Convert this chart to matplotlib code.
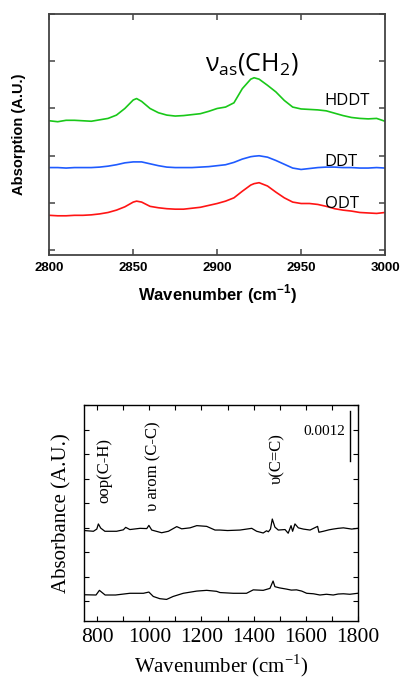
import matplotlib.pyplot as plt
from matplotlib.ticker import MultipleLocator

# ---- top panel: CH2 stretching region ----
wn_top = [2800, 2805, 2810, 2815, 2820, 2825, 2830, 2835, 2840, 2845, 2850, 2852,
          2855, 2860, 2865, 2870, 2875, 2880, 2885, 2890, 2895, 2900, 2905, 2910,
          2915, 2920, 2922, 2925, 2930, 2935, 2940, 2945, 2950, 2955, 2960, 2965,
          2970, 2975, 2980, 2985, 2990, 2995, 3000]
hddt = [2.74, 2.72, 2.75, 2.75, 2.74, 2.73, 2.76, 2.79, 2.86, 3.00, 3.18, 3.21,
        3.15, 3.00, 2.91, 2.86, 2.84, 2.85, 2.87, 2.89, 2.94, 3.00, 3.03, 3.12,
        3.42, 3.62, 3.65, 3.62, 3.49, 3.35, 3.17, 3.03, 2.99, 2.98, 2.97, 2.95,
        2.90, 2.85, 2.81, 2.79, 2.78, 2.79, 2.73]
ddt = [1.75, 1.75, 1.74, 1.75, 1.75, 1.75, 1.76, 1.78, 1.81, 1.85, 1.87, 1.87,
       1.87, 1.83, 1.79, 1.76, 1.75, 1.75, 1.75, 1.76, 1.77, 1.79, 1.81, 1.86,
       1.93, 1.98, 1.99, 2.00, 1.97, 1.90, 1.82, 1.74, 1.71, 1.73, 1.75, 1.76,
       1.76, 1.75, 1.75, 1.74, 1.74, 1.75, 1.74]
odt = [0.74, 0.73, 0.73, 0.74, 0.74, 0.75, 0.77, 0.80, 0.85, 0.92, 1.02, 1.04,
       1.02, 0.93, 0.90, 0.88, 0.87, 0.87, 0.89, 0.91, 0.95, 0.99, 1.04, 1.11,
       1.25, 1.38, 1.41, 1.43, 1.36, 1.23, 1.11, 1.02, 0.99, 0.99, 0.97, 0.93,
       0.88, 0.85, 0.83, 0.80, 0.79, 0.78, 0.80]
top_names = ['HDDT', 'DDT', 'ODT']
top_label_y = [3.16, 1.87, 0.97]
top_colors = ['#19c819', '#1f5bff', '#ff1414']

# ---- bottom panel: fingerprint region ----
wn_up = [750, 785, 798, 804, 813, 829, 874, 900, 909, 925, 964, 990, 998, 1009,
         1047, 1073, 1105, 1124, 1156, 1182, 1220, 1252, 1271, 1300, 1348, 1393,
         1412, 1437, 1450, 1457, 1465, 1472, 1482, 1495, 1521, 1533, 1544, 1550,
         1559, 1572, 1591, 1617, 1646, 1651, 1668, 1690, 1706, 1725, 1745, 1777, 1800]
abs_up = [2.89, 2.86, 2.95, 3.16, 2.99, 2.86, 2.86, 2.92, 3.02, 2.93, 2.98, 2.97,
          3.10, 2.91, 2.80, 2.86, 3.05, 2.96, 3.00, 3.09, 3.06, 2.91, 2.91, 2.89,
          2.91, 2.98, 2.86, 2.79, 2.88, 2.84, 2.95, 3.36, 3.03, 2.91, 2.93, 2.78,
          3.09, 2.86, 3.16, 3.00, 2.95, 2.91, 3.06, 2.82, 2.86, 2.92, 2.95, 2.98,
          3.00, 2.95, 2.98]
wn_low = [750, 795, 808, 830, 870, 925, 977, 998, 1015, 1040, 1066, 1091, 1130,
          1182, 1220, 1258, 1271, 1322, 1373, 1399, 1437, 1463, 1475, 1482, 1500,
          1527, 1545, 1565, 1585, 1604, 1630, 1655, 1680, 1706, 1725, 1745, 1770, 1800]
abs_low = [0.27, 0.26, 0.45, 0.26, 0.26, 0.33, 0.33, 0.38, 0.20, 0.11, 0.08, 0.20,
           0.33, 0.42, 0.45, 0.41, 0.36, 0.33, 0.33, 0.47, 0.45, 0.53, 0.83, 0.60,
           0.55, 0.50, 0.46, 0.47, 0.42, 0.33, 0.31, 0.26, 0.29, 0.26, 0.30, 0.31,
           0.29, 0.33]
bands = ['oop(C-H)', 'υ arom (C-C)', 'υ(C=C)']
band_wn = [826, 1014, 1490]
band_y = [4.0, 3.7, 4.8]

fig = plt.figure(figsize=(4.02, 6.83), dpi=100)

# top axes
ax1 = fig.add_axes([0.1227, 0.6266, 0.835, 0.353])
for y, c in zip([hddt, ddt, odt], top_colors):
    ax1.plot(wn_top, y, color=c, lw=1.2)
for name, ly in zip(top_names, top_label_y):
    ax1.text(2964, ly, name, fontsize=12, family='Open Sans', va='center', ha='left')
ax1.text(2893, 3.95, r'ν$_{\mathregular{as}}$(CH$_{\mathregular{2}}$)', fontsize=18,
         family='Open Sans', va='center', ha='left')
ax1.set_xlim(2800, 3000)
ax1.set_ylim(-0.1, 5.0)
ax1.set_xticks([2800, 2850, 2900, 2950, 3000])
ax1.set_yticks([0, 1, 2, 3, 4, 5])
ax1.set_yticklabels([])
ax1.tick_params(direction='in', top=True, right=True, length=4, width=1.1,
                color='#444444', labelsize=9.5, pad=5)
for lab in ax1.get_xticklabels():
    lab.set_fontweight('bold')
    lab.set_family('Liberation Sans')
for sp in ax1.spines.values():
    sp.set_color('#444444')
    sp.set_linewidth(1.3)
ax1.set_xlabel('Wavenumber (cm$^{\\mathregular{-1}}$)', fontsize=12, fontweight='bold',
               family='Liberation Sans', labelpad=6)
ax1.set_ylabel('Absorption (A.U.)', fontsize=10.5, fontweight='bold',
               family='Liberation Sans', labelpad=12)

# bottom axes
ax2 = fig.add_axes([0.2097, 0.0908, 0.6801, 0.3158])
ax2.plot(wn_up, abs_up, color='black', lw=0.9)
ax2.plot(wn_low, abs_low, color='black', lw=0.9)
for t, bx, by in zip(bands, band_wn, band_y):
    ax2.text(bx, by, t, rotation=90, fontsize=12, family='Liberation Serif',
             ha='center', va='bottom')
ax2.plot([1770, 1770], [5.73, 7.76], color='black', lw=1.0)
ax2.text(1751, 6.95, '0.0012', fontsize=11, family='Liberation Serif',
         ha='right', va='center')
ax2.set_xlim(750, 1800)
ax2.set_ylim(-0.8, 8.0)
ax2.xaxis.set_major_locator(MultipleLocator(200))
ax2.xaxis.set_minor_locator(MultipleLocator(100))
ax2.yaxis.set_major_locator(MultipleLocator(1))
ax2.set_yticklabels([])
ax2.tick_params(which='both', direction='in', top=True, right=True, length=3.5,
                width=0.8, labelsize=15.5, pad=5)
for lab in ax2.get_xticklabels():
    lab.set_family('Liberation Serif')
for sp in ax2.spines.values():
    sp.set_linewidth(1.0)
ax2.set_xlabel('Wavenumber (cm$^{\\mathregular{-1}}$)', fontsize=15,
               family='Liberation Serif', labelpad=4)
ax2.set_ylabel('Absorbance (A.U.)', fontsize=15, family='Liberation Serif', labelpad=4)

fig.savefig('out.png', dpi=100)
